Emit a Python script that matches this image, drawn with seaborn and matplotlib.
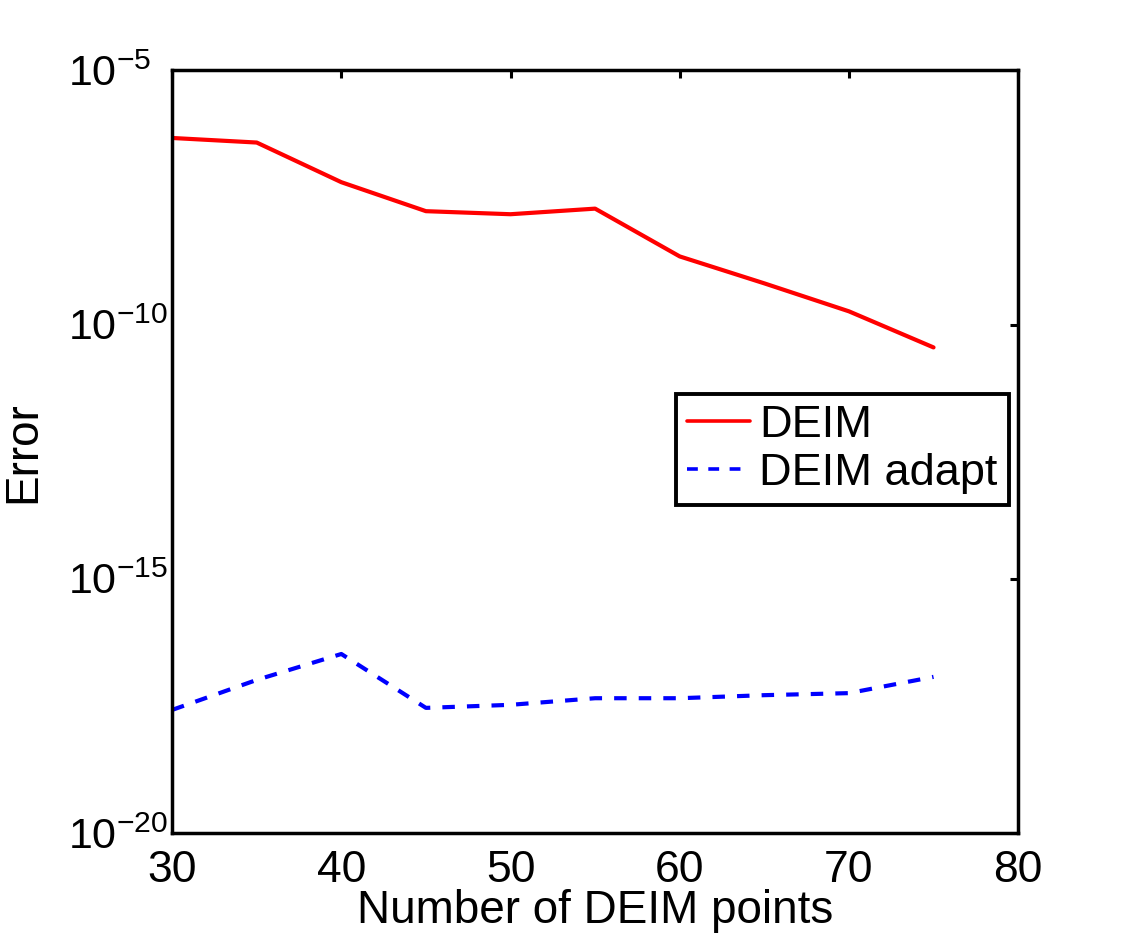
import numpy as np
import pandas as pd
import matplotlib
matplotlib.use('Agg')
import matplotlib.pyplot as plt
import matplotlib.ticker as mticker
import seaborn as sns

# ── Données ──────────────────────────────────────────────────────
n_points = [30, 35, 40, 45, 50, 55, 60, 65, 70, 75]
log_err_deim = [-6.33, -6.42, -7.20, -7.77, -7.83, -7.72, -8.66, -9.19, -9.74, -10.45]
log_err_adapt = [-17.58, -16.99, -16.48, -17.54, -17.48, -17.35, -17.35, -17.29, -17.25, -16.93]
series_names = ['DEIM', 'DEIM adapt']

df = pd.concat([
    pd.DataFrame({'n': n_points, 'err': 10.0 ** np.array(log_err_deim), 'method': series_names[0]}),
    pd.DataFrame({'n': n_points, 'err': 10.0 ** np.array(log_err_adapt), 'method': series_names[1]}),
])

# ── Style ─────────────────────────────────────────────────────────
sns.set_theme(style='white')
plt.rcParams['font.family'] = ['Liberation Sans', 'DejaVu Sans']
plt.rcParams['mathtext.fontset'] = 'custom'
plt.rcParams['mathtext.rm'] = 'Liberation Sans'
plt.rcParams['mathtext.it'] = 'Liberation Sans'
plt.rcParams['mathtext.sf'] = 'Liberation Sans'
for k in ['text.color', 'axes.labelcolor', 'xtick.color', 'ytick.color', 'axes.edgecolor']:
    plt.rcParams[k] = 'black'

fig = plt.figure(figsize=(11.25, 9.38), dpi=100)
ax = fig.add_axes([0.153, 0.112, 0.752, 0.813])

sns.lineplot(data=df, x='n', y='err', hue='method', style='method',
             palette={'DEIM': '#ff0000', 'DEIM adapt': '#0000ff'},
             dashes={'DEIM': '', 'DEIM adapt': (3, 2.9)},
             linewidth=3, ax=ax, legend=True)

ax.set_yscale('log')
ax.set_xlim(30, 80)
ax.set_ylim(1e-20, 1e-5)
ax.set_xticks([30, 40, 50, 60, 70, 80])
ax.set_yticks([1e-20, 1e-15, 1e-10, 1e-5])
ax.yaxis.set_minor_locator(mticker.NullLocator())
ax.yaxis.set_major_formatter(mticker.FuncFormatter(
    lambda v, p: r'$10^{%d}$' % int(round(np.log10(v)))))

ax.tick_params(axis='both', which='major', direction='in', length=6, width=2.2,
               top=True, right=True, labelsize=32, color='black')
ax.tick_params(axis='x', pad=12)
# MATLAB aligne les "10" à gauche
ax.tick_params(axis='y', pad=75, labelsize=31)
for lab in ax.get_yticklabels():
    lab.set_horizontalalignment('left')
for s in ax.spines.values():
    s.set_linewidth(2.5)
    s.set_color('black')

ax.set_xlabel('Number of DEIM points', fontsize=33, labelpad=-1)
ax.set_ylabel('Error', fontsize=33)
ax.yaxis.set_label_coords(-0.150, 0.5)

leg = ax.legend(loc='upper right', bbox_to_anchor=(0.989, 0.576), fontsize=32.5,
                frameon=True, fancybox=False, framealpha=1, handlelength=1.4,
                borderpad=0.25, labelspacing=0.15, handletextpad=0.2,
                borderaxespad=0)
leg.get_frame().set_edgecolor('black')
leg.get_frame().set_linewidth(2.8)
for line in leg.get_lines():
    line.set_linewidth(2.6)

fig.savefig('out.png', dpi=100, facecolor='white')
plt.close()
